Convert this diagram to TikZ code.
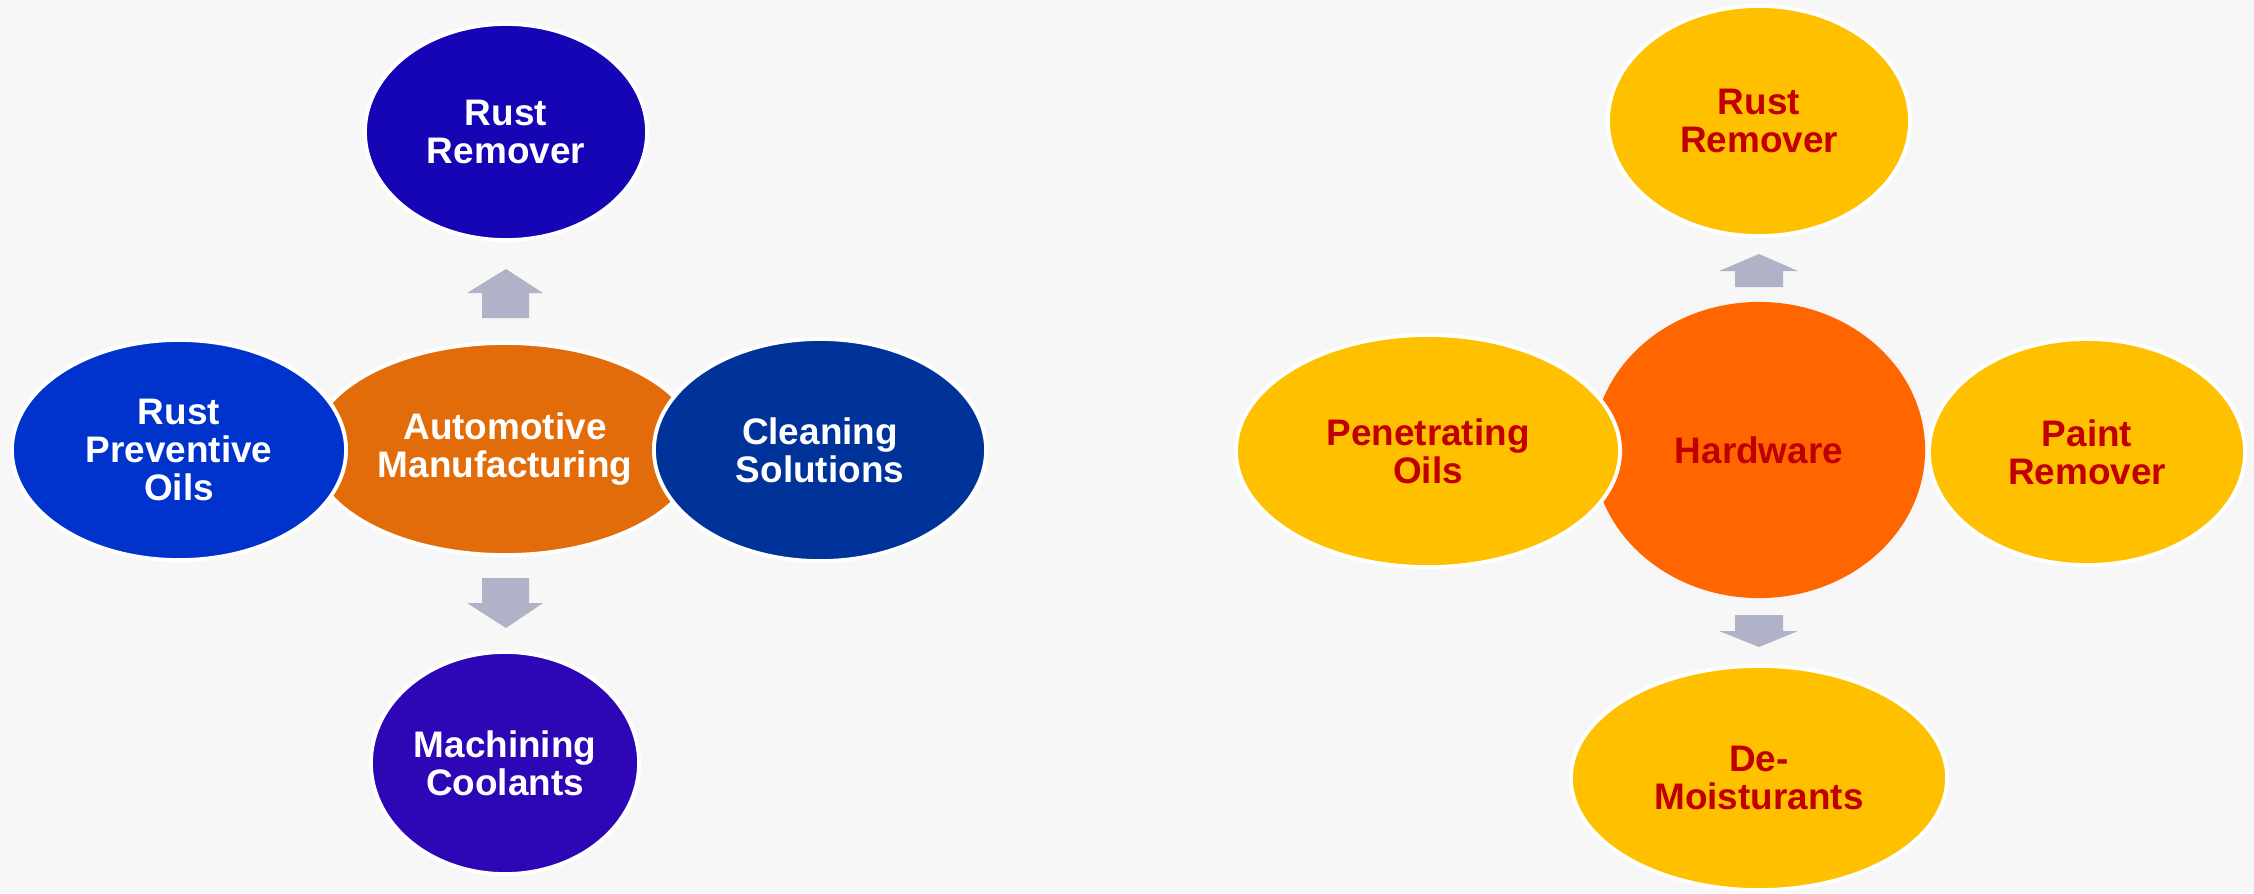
\documentclass[tikz,border=0pt]{standalone}
\usepackage{fontspec}
\setmainfont{Liberation Sans}
\usetikzlibrary{shapes.geometric}

\definecolor{bgcol}{HTML}{F7F7F7}
\definecolor{rustblue}{HTML}{1505B5}
\definecolor{oilblue}{HTML}{0033CC}
\definecolor{cleanblue}{HTML}{003399}
\definecolor{coolviolet}{HTML}{2D06B5}
\definecolor{autoorange}{HTML}{E36C0A}
\definecolor{hworange}{HTML}{FF6600}
\definecolor{gold}{HTML}{FFC000}
\definecolor{darkred}{HTML}{C00000}
\definecolor{arrowgray}{HTML}{B0B2C8}

\begin{document}
\begin{tikzpicture}[
    x=0.01cm, y=-0.01cm,
    bubble/.style={ellipse, draw=white, line width=1.1pt, inner sep=0pt, align=center,
                   font=\fontsize{10.5}{10.9}\selectfont\bfseries},
    bluebub/.style={bubble, text=white},
    goldbub/.style={bubble, fill=gold, text=darkred},
    blockarrow/.style={fill=arrowgray}
]

\fill[bgcol] (0,0) rectangle (2254,893);
\useasboundingbox (0,0) rectangle (2254,893);

% left: automotive
\node[bluebub, fill=autoorange, minimum width=3.88cm, minimum height=2.12cm] (autoMfg) at (505,449) {Automotive\\Manufacturing};
\node[bluebub, fill=rustblue, minimum width=2.82cm, minimum height=2.16cm] (rustL) at (506,132) {Rust\\Remover};
\node[bluebub, fill=oilblue, minimum width=3.34cm, minimum height=2.2cm] (prevOils) at (179,450) {Rust\\Preventive\\Oils};
\node[bluebub, fill=cleanblue, minimum width=3.32cm, minimum height=2.22cm] (cleanSol) at (820,450) {Cleaning\\Solutions};
\node[bluebub, fill=coolviolet, minimum width=2.68cm, minimum height=2.22cm] (machCool) at (505,763) {Machining\\Coolants};

\fill[blockarrow] (467,293) -- (506,269) -- (543,293) -- (529,293) -- (529,318) -- (482,318) -- (482,293) -- cycle;
\fill[blockarrow] (467,603) -- (506,628) -- (543,603) -- (529,603) -- (529,578) -- (482,578) -- (482,603) -- cycle;

% right: hardware
\node[bubble, fill=hworange, text=darkred, draw=none, minimum width=3.32cm, minimum height=2.96cm] (hardware) at (1759,450) {Hardware};
\node[goldbub, minimum width=3.02cm, minimum height=2.3cm] (rustR) at (1759,121) {Rust\\Remover};
\node[goldbub, minimum width=3.84cm, minimum height=2.32cm] (penOils) at (1428,451) {Penetrating\\Oils};
\node[goldbub, minimum width=3.16cm, minimum height=2.26cm] (paintRem) at (2087,452) {Paint\\Remover};
\node[goldbub, minimum width=3.76cm, minimum height=2.24cm] (deMoist) at (1759,778) {De-\\Moisturants};

\fill[blockarrow] (1719,271) -- (1759,254) -- (1798,271) -- (1783,271) -- (1783,287) -- (1735,287) -- (1735,271) -- cycle;
\fill[blockarrow] (1719,631) -- (1759,647) -- (1798,631) -- (1783,631) -- (1783,615) -- (1735,615) -- (1735,631) -- cycle;

\end{tikzpicture}
\end{document}
